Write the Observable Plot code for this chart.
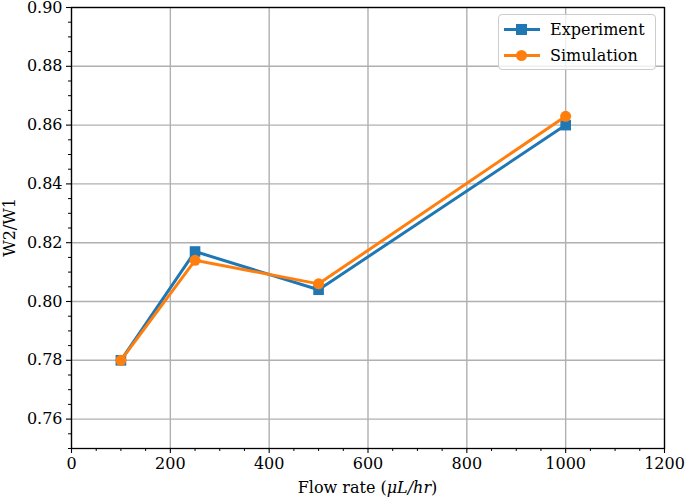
<!DOCTYPE html>
<html>
<head>
<meta charset="utf-8">
<script src="https://cdn.jsdelivr.net/npm/d3@7"></script>
<script src="https://cdn.jsdelivr.net/npm/@observablehq/plot@0.6"></script>
<style>
  html, body { margin: 0; padding: 0; background: #fff; }
  #wrap { position: relative; width: 685px; height: 499px; font-family: "DejaVu Serif", serif; }
  #legend { position: absolute; left: 498px; top: 14px; width: 158px; height: 56px; box-sizing: border-box;
    border: 1px solid #cccccc; border-radius: 4px; background: rgba(255,255,255,0.8); }
  #legend .row { position: absolute; left: 0; height: 22px; display: flex; align-items: center; }
  #legend .row span { font-size: 16px; color: #000; margin-left: 9px; }
</style>
</head>
<body>
<div id="wrap"></div>
<script>
const flowRates = [100, 250, 500, 1000];
const experiment = [0.780, 0.817, 0.804, 0.860];
const simulation = [0.780, 0.814, 0.806, 0.863];
const xTicks = [0, 200, 400, 600, 800, 1000, 1200];
const yTicks = [0.76, 0.78, 0.80, 0.82, 0.84, 0.86, 0.88, 0.90];
const seriesNames = ["Experiment", "Simulation"];
const seriesColors = ["#1f77b4", "#ff7f0e"];

const expData = flowRates.map((x, i) => ({x, y: experiment[i]}));
const simData = flowRates.map((x, i) => ({x, y: simulation[i]}));
const xMinor = d3.range(0, 1201, 50).filter(v => !xTicks.includes(v));
const yMinor = d3.range(0, 31).map(i => +(0.75 + i * 0.005).toFixed(3)).filter(v => !yTicks.some(t => Math.abs(t - v) < 1e-9));

const font = "DejaVu Serif";
const plot = Plot.plot({
  width: 685,
  height: 499,
  marginLeft: 71,
  marginRight: 21,
  marginTop: 7,
  marginBottom: 51,
  style: {fontFamily: font, fontSize: "16px", background: "#fff", color: "#000", overflow: "visible"},
  x: {domain: [0, 1200]},
  y: {domain: [0.75, 0.90]},
  marks: [
    Plot.gridX(xTicks, {stroke: "#b0b0b0", strokeOpacity: 1, strokeWidth: 1.4}),
    Plot.gridY(yTicks, {stroke: "#b0b0b0", strokeOpacity: 1, strokeWidth: 1.4}),
    Plot.axisX(xMinor, {tickSize: 3, text: null, label: null, stroke: "#000", strokeWidth: 1}),
    Plot.axisY(yMinor, {tickSize: 3, text: null, label: null, stroke: "#000", strokeWidth: 1}),
    Plot.axisX(xTicks, {tickSize: 5, tickPadding: 4, label: null, tickFormat: d => String(d), fontSize: 16, stroke: "#000", strokeWidth: 1.1}),
    Plot.axisY(yTicks, {tickSize: 5, tickPadding: 4, label: null, tickFormat: d3.format(".2f"), fontSize: 16, stroke: "#000", strokeWidth: 1.1}),
    Plot.line(expData, {x: "x", y: "y", stroke: seriesColors[0], strokeWidth: 3}),
    Plot.dot(expData, {x: "x", y: "y", symbol: "square", r: 6, fill: seriesColors[0], stroke: null}),
    Plot.line(simData, {x: "x", y: "y", stroke: seriesColors[1], strokeWidth: 3}),
    Plot.dot(simData, {x: "x", y: "y", symbol: "circle", r: 5.5, fill: seriesColors[1], stroke: null}),
    Plot.frame({stroke: "#000", strokeWidth: 1.3})
  ]
});

const svg = d3.select(plot);
const xr = plot.scale("x").range;
const yr = plot.scale("y").range;
const xl = svg.append("text")
  .attr("x", (xr[0] + xr[1]) / 2).attr("y", 493)
  .attr("text-anchor", "middle").attr("font-family", font).attr("font-size", 16).attr("fill", "#000");
xl.append("tspan").text("Flow rate (");
xl.append("tspan").attr("font-style", "italic").text("μL/hr");
xl.append("tspan").text(")");
svg.append("text")
  .attr("transform", `translate(15,${(yr[0] + yr[1]) / 2}) rotate(-90)`)
  .attr("text-anchor", "middle").attr("font-family", font).attr("font-size", 16).attr("fill", "#000")
  .text("W2/W1");

const wrap = document.getElementById("wrap");
wrap.appendChild(plot);

const legend = document.createElement("div");
legend.id = "legend";
seriesNames.forEach((name, i) => {
  const row = document.createElement("div");
  row.className = "row";
  row.style.left = "4px";
  row.style.top = (i === 0 ? 3 : 29) + "px";
  const marker = i === 0
    ? `<rect x="13" y="5" width="11" height="11" fill="${seriesColors[i]}"/>`
    : `<circle cx="18.5" cy="10.5" r="5.5" fill="${seriesColors[i]}"/>`;
  row.innerHTML = `<svg width="38" height="21"><line x1="1" x2="37" y1="10.5" y2="10.5" stroke="${seriesColors[i]}" stroke-width="3"/>${marker}</svg><span>${name}</span>`;
  legend.appendChild(row);
});
wrap.appendChild(legend);
</script>
</body>
</html>
